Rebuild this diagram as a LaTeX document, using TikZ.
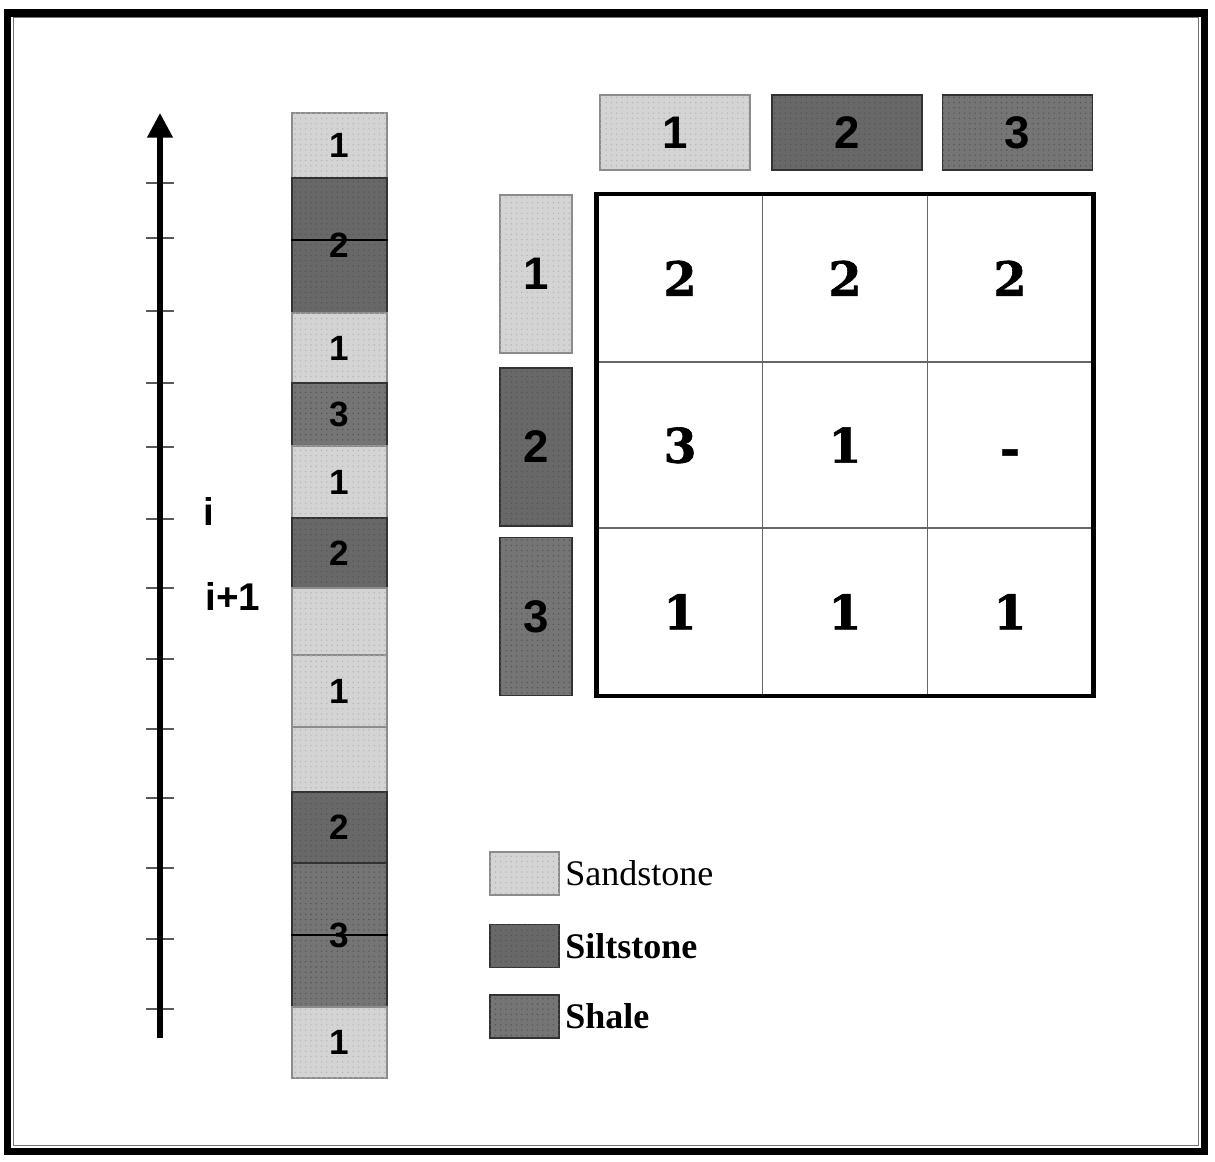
\documentclass[tikz,border=0pt]{standalone}
\usepackage{fontspec}
\setmainfont{Liberation Serif}
\newfontfamily\digitfont{Liberation Sans}
\newfontfamily\tablefont{DejaVu Serif}[UprightFont={* Bold},FakeBold=1.3]
\usetikzlibrary{arrows.meta,positioning,patterns.meta}
\definecolor{sandfill}{RGB}{212,212,212}
\definecolor{sanddot}{RGB}{182,182,182}
\definecolor{sandline}{RGB}{140,140,140}
\definecolor{siltfill}{RGB}{104,104,104}
\definecolor{shalefill}{RGB}{117,117,117}
\definecolor{darkdot}{RGB}{84,84,84}
\definecolor{darkline}{RGB}{50,50,50}

\begin{document}
\begin{tikzpicture}[
    x=0.02cm, y=-0.02cm,
    rock/.style={
        line width=0.8pt,
        inner sep=0pt,
        font=\digitfont\bfseries\fontsize{20}{24}\selectfont,
    },
    sand/.style={
        rock,
        draw=sandline,
        fill=sandfill,
        postaction={pattern={Dots[distance=3pt,radius=0.45pt]},pattern color=sanddot},
    },
    silt/.style={
        rock,
        draw=darkline,
        fill=siltfill,
        postaction={pattern={Dots[distance=3pt,radius=0.45pt]},pattern color=darkdot},
    },
    shale/.style={
        rock,
        draw=darkline,
        fill=shalefill,
        postaction={pattern={Dots[distance=3pt,radius=0.45pt]},pattern color=darkdot},
    },
    headbox/.style={
        minimum width=3cm,
        minimum height=1.5cm,
        font=\digitfont\bfseries\fontsize{26}{30}\selectfont,
    },
    rowbox/.style={
        minimum width=1.44cm,
        minimum height=3.16cm,
        font=\digitfont\bfseries\fontsize{26}{30}\selectfont,
    },
    cellbox/.style={
        draw=black!60,
        line width=1.1pt,
        minimum width=3.3cm,
        minimum height=3.34cm,
        text height=20pt,
        text depth=0pt,
        font=\tablefont\fontsize{27}{31}\selectfont,
    },
    keybox/.style={
        minimum width=1.38cm,
        minimum height=0.86cm,
    },
    keytext/.style={
        inner sep=0pt,
        font=\fontsize{20.5}{24}\selectfont,
    },
    tick/.style={
        draw=black!65,
        line width=1.7pt,
    },
    axisline/.style={
        -{Triangle[width=14pt,length=14pt]},
        line width=3pt,
    },
    seam/.style={
        line width=1.1pt,
        color=black,
    },
]
\useasboundingbox (0,0) rectangle (1215,1162);
\fill[white] (0,0) rectangle (1215,1162);

% double frame
\draw[line width=4.5pt] (7.5,13) rectangle (1204.5,1151.5);
\draw[line width=1.1pt,color=black!55] (13.5,17.5) rectangle (1198.5,1145.5);

% depth axis
\foreach \ty in {183,238,311,383,447,519,588,659,729,798,868,939,1009}
    \draw[tick] (146,\ty) -- (174,\ty);
\coordinate (axbot) at (160,1038);
\coordinate (axtop) at (160,113);
\draw[axisline] (axbot) -- (axtop);

\node[font=\digitfont\bfseries\fontsize{22}{26}\selectfont] (lbli) at (209,511) {i};
\node[font=\digitfont\bfseries\fontsize{22}{26}\selectfont] (lblnext) at (233,596) {i+1};

% lithology column
\foreach \top/\bot/\kind/\lab [count=\k] in {
    113/178/sand/1, 178/313/silt/2, 313/383/sand/1, 383/446/shale/3,
    446/518/sand/1, 518/588/silt/2, 588/655/sand/{}, 655/727/sand/1,
    727/792/sand/{}, 792/863/silt/2, 863/1007/shale/3, 1007/1078/sand/1}
    \node[\kind,minimum width=1.9cm,minimum height={(\bot-\top)*0.02cm}]
        (col\k) at (339.5,{(\top+\bot)/2}) {\lab};

\coordinate (seamA) at (0,240);
\coordinate (seamB) at (0,935);
\draw[seam] (col2.west |- seamA) -- (col2.east |- seamA);
\draw[seam] (col11.west |- seamB) -- (col11.east |- seamB);

% transition table
\node[sand,headbox] (head1) at (675,132.5) {1};
\node[silt,headbox] (head2) at (847,132.5) {2};
\node[shale,headbox] (head3) at (1017.5,132.5) {3};

\node[sand,rowbox] (row1) at (536,274) {1};
\node[silt,rowbox] (row2) at (536,447) {2};
\node[shale,rowbox] (row3) at (536,616.5) {3};

\foreach \a/\b/\c [count=\r] in {2/2/2, 3/1/\raisebox{-1.5pt}{-}, 1/1/1} {
    \node[cellbox] (m\r1) at (680,{195+(\r-0.5)*166.7}) {\a};
    \node[cellbox] (m\r2) at (845,{195+(\r-0.5)*166.7}) {\b};
    \node[cellbox] (m\r3) at (1010,{195+(\r-0.5)*166.7}) {\c};
}
\draw[line width=2.4pt] (m11.north west) rectangle (m33.south east);

% legend
\node[sand,keybox] (key1) at (524.5,873.5) {};
\node[silt,keybox] (key2) at (524.5,946) {};
\node[shale,keybox] (key3) at (524.5,1016.5) {};
\node[keytext,anchor=west] (keyname1) at ([xshift=3pt]key1.east) {Sandstone};
\node[keytext,anchor=west] (keyname2) at ([xshift=3pt]key2.east) {\bfseries Siltstone};
\node[keytext,anchor=west] (keyname3) at ([xshift=3pt]key3.east) {\bfseries Shale};
\end{tikzpicture}
\end{document}
